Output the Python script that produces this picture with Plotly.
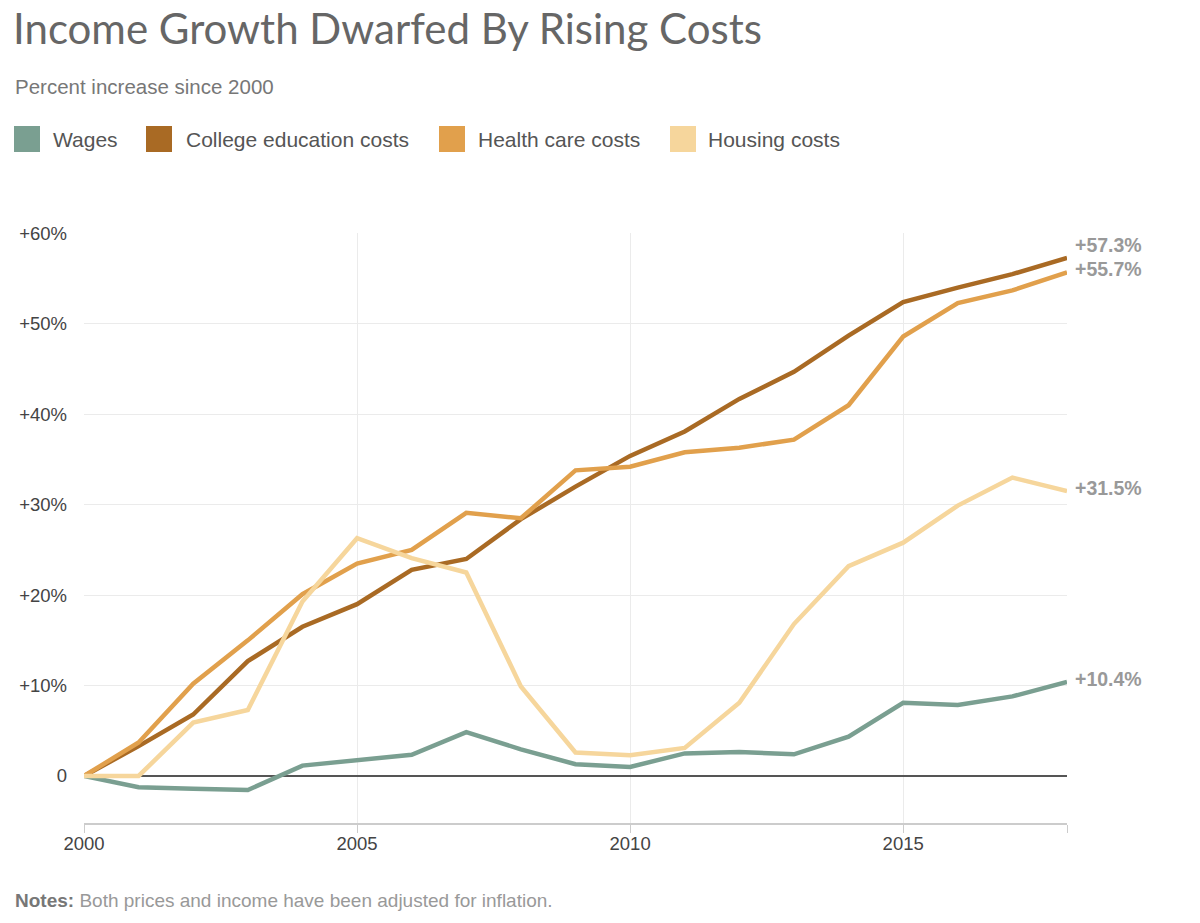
import plotly.graph_objects as go

years = list(range(2000, 2019))
wages = [0, -1.25, -1.4, -1.55, 1.15, 1.8, 2.35, 4.85, 2.95, 1.3, 1.0, 2.5, 2.65, 2.4, 4.35, 8.1, 7.85, 8.8, 10.4]
college = [0, 3.3, 6.8, 12.7, 16.5, 19.0, 22.8, 24.0, 28.4, 32.0, 35.4, 38.1, 41.7, 44.7, 48.7, 52.4, 54.0, 55.5, 57.3]
health = [0, 3.7, 10.2, 15.0, 20.1, 23.5, 25.0, 29.1, 28.5, 33.8, 34.2, 35.8, 36.3, 37.2, 41.0, 48.6, 52.3, 53.7, 55.7]
housing = [0, 0, 5.9, 7.3, 19.3, 26.3, 24.1, 22.5, 9.9, 2.6, 2.3, 3.1, 8.1, 16.8, 23.2, 25.8, 29.9, 33.0, 31.5]

series_names = ["Wages", "College education costs", "Health care costs", "Housing costs"]
series_values = [wages, college, health, housing]
series_colors = ["#7a9f91", "#a96a24", "#e1a04c", "#f6d69c"]
label_shift = [3, 13, 3, 3]

ytick_vals = [0, 10, 20, 30, 40, 50, 60]
ytick_text = ["0", "+10%", "+20%", "+30%", "+40%", "+50%", "+60%"]
xtick_vals = [2000, 2005, 2010, 2015]

fig = go.Figure()
for name, vals, col in zip(series_names, series_values, series_colors):
    fig.add_trace(go.Scatter(x=years, y=vals, mode="lines", name=name,
                             line=dict(color=col, width=4.5), showlegend=False,
                             hoverinfo="x+y+name"))

L, R, T, B = 84, 133, 233, 100
W, H = 1200, 923
pw, ph = W - L - R, H - T - B

def px_x(p):
    return (p - L) / pw

def px_y(p):
    return (H - B - p) / ph

FONT = "Liberation Sans, Arial, sans-serif"
annotations = []
for vals, sh in zip(series_values, label_shift):
    annotations.append(dict(x=years[-1], y=vals[-1], xref="x", yref="y",
                            text=f"<b>+{vals[-1]:.1f}%</b>", showarrow=False,
                            xanchor="left", yanchor="middle", xshift=6, yshift=sh,
                            font=dict(family=FONT, size=19.5, color="#999999")))

leg_sq = [14, 146, 439, 670]
leg_tx = [51, 184, 476, 706]
shapes = []
for name, col, sx, tx in zip(series_names, series_colors, leg_sq, leg_tx):
    shapes.append(dict(type="rect", xref="paper", yref="paper",
                       x0=px_x(sx), x1=px_x(sx + 26), y0=px_y(152), y1=px_y(126),
                       fillcolor=col, line=dict(width=0)))
    annotations.append(dict(x=px_x(tx), y=px_y(140), xref="paper", yref="paper",
                            text=name, showarrow=False, xanchor="left", yanchor="middle",
                            font=dict(family=FONT, size=21, color="#555555")))

annotations.append(dict(x=px_x(13), y=px_y(87), xref="paper", yref="paper",
                        text="Percent increase since 2000", showarrow=False,
                        xanchor="left", yanchor="middle",
                        font=dict(family=FONT, size=20.5, color="#777777")))
annotations.append(dict(x=px_x(13), y=px_y(900), xref="paper", yref="paper",
                        text="<b><span style='color:#777777'>Notes:</span></b> Both prices and income have been adjusted for inflation.",
                        showarrow=False, xanchor="left", yanchor="middle",
                        font=dict(family=FONT, size=19, color="#999999")))

fig.update_layout(
    width=W, height=H,
    margin=dict(l=L, r=R, t=T, b=B),
    paper_bgcolor="white", plot_bgcolor="white",
    title=dict(text="Income Growth Dwarfed By Rising Costs", x=13 / W, xref="container",
               xanchor="left", y=1 - 29 / H, yref="container", yanchor="middle",
               font=dict(family="Lato, Liberation Sans", size=42, color="#666666")),
    showlegend=False,
    annotations=annotations,
    shapes=shapes,
    hovermode="closest",
)

fig.update_xaxes(range=[2000, 2018], tickvals=xtick_vals, ticktext=[str(v) for v in xtick_vals],
                 showgrid=True, gridcolor="#ebebeb", gridwidth=1,
                 showline=True, linecolor="#cccccc", linewidth=2,
                 ticks="outside", ticklen=8, tickcolor="#cccccc", tickwidth=1,
                 ticklabelstandoff=-5,
                 minor=dict(tickvals=[2018], ticks="outside", ticklen=8, tickcolor="#cccccc", showgrid=False),
                 tickfont=dict(family=FONT, size=18.5, color="#444444"),
                 zeroline=False, fixedrange=True)
fig.update_yaxes(range=[-5.2, 60.05], tickvals=ytick_vals, ticktext=ytick_text,
                 showgrid=True, gridcolor="#ebebeb", gridwidth=1,
                 zeroline=True, zerolinecolor="#555555", zerolinewidth=1.5,
                 showline=False, ticks="", ticklabelstandoff=16,
                 tickfont=dict(family=FONT, size=18.5, color="#444444"),
                 fixedrange=True)

fig.write_html("out.html", config={"displayModeBar": False},
               post_script="document.body.style.margin='0px';")
